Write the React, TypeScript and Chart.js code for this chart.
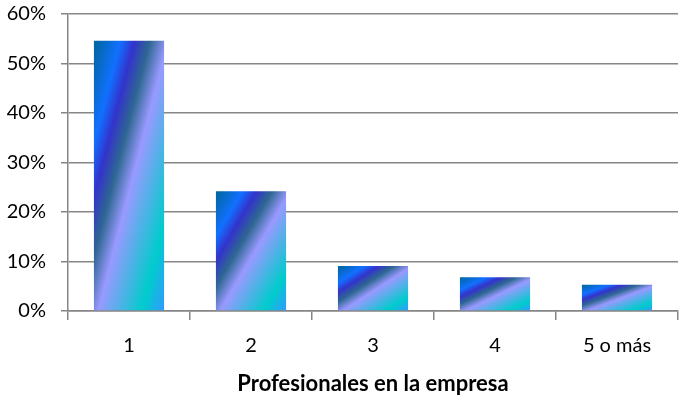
import React, { useEffect, useRef } from 'react';
import { Chart, registerables } from 'chart.js';

Chart.register(...registerables);

const categories = ['1', '2', '3', '4', '5 o más'];
const shares = [0.546, 0.242, 0.091, 0.068, 0.053];
const yTicks = [0, 0.1, 0.2, 0.3, 0.4, 0.5, 0.6];
const axisTitle = 'Profesionales en la empresa';

// Office "Peacock" style stops, from top-left to bottom-right of each bar
const gradientStops: [number, string][] = [
  [0, '#006699'],
  [0.19, '#1170FF'],
  [0.29, '#3333CC'],
  [0.4, '#2E6792'],
  [0.53, '#9999FF'],
  [0.84, '#00CCCC'],
  [1, '#3399FF'],
];

const BAR_PCT = 0.575;
const GRID = '#868686';
const FONT = 'Lato, "Open Sans", sans-serif';

const App: React.FC = () => {
  const canvasRef = useRef<HTMLCanvasElement>(null);

  useEffect(() => {
    if (!canvasRef.current) return;
    const ctx = canvasRef.current.getContext('2d');
    if (!ctx) return;

    const chart = new Chart(ctx, {
      type: 'bar',
      data: {
        labels: categories,
        datasets: [{
          data: shares,
          barPercentage: BAR_PCT,
          categoryPercentage: 1,
          borderWidth: 0,
          backgroundColor: (c: any) => {
            const ch = c.chart;
            if (!ch.chartArea || c.type !== 'data') return '#3399FF';
            const xs = ch.scales.x;
            const ys = ch.scales.y;
            const cx = xs.getPixelForValue(c.dataIndex);
            const w = (xs.width / categories.length) * BAR_PCT;
            const top = ys.getPixelForValue(c.raw);
            const h = ys.getPixelForValue(0) - top;
            if (!(h > 0)) return '#3399FF';
            const x0 = cx - w / 2;
            // diagonal gradient stretched to the bar box
            const k = 2 / (1 / (w * w) + 1 / (h * h));
            const g = ch.ctx.createLinearGradient(x0, top, x0 + k / w, top + k / h);
            gradientStops.forEach(([o, col]) => g.addColorStop(o, col));
            return g;
          },
        }],
      },
      options: {
        responsive: true,
        maintainAspectRatio: false,
        animation: false,
        layout: { padding: { top: 14, right: 2, bottom: 4, left: 0 } },
        plugins: {
          legend: { display: false },
          tooltip: { enabled: false },
        },
        scales: {
          x: {
            afterFit: (s: any) => {
              s.height = 86;
              s.paddingLeft = 0;
              s.paddingRight = 0;
            },
            grid: {
              display: true,
              drawOnChartArea: false,
              drawTicks: true,
              tickLength: 9,
              color: GRID,
              lineWidth: 1.5,
              offset: true,
            },
            border: { display: true, color: GRID, width: 1.5 },
            ticks: {
              color: '#000',
              padding: 14,
              maxRotation: 0,
              font: { family: FONT, size: 20 },
            },
            title: {
              display: true,
              text: axisTitle,
              color: '#000',
              padding: { top: 13, bottom: 0 },
              font: { family: FONT, size: 22, weight: 'bold' },
            },
          },
          y: {
            min: 0,
            max: 0.6,
            afterFit: (s: any) => {
              s.width = 68;
              s.paddingTop = 0;
              s.paddingBottom = 0;
            },
            afterBuildTicks: (s: any) => { s.ticks = yTicks.map(v => ({ value: v })); },
            grid: {
              color: GRID,
              lineWidth: 1.5,
              tickLength: 7,
              drawTicks: true,
            },
            border: { display: true, color: GRID, width: 1.5 },
            ticks: {
              color: '#000',
              padding: 15,
              font: { family: FONT, size: 20 },
              callback: (v: any) => `${Math.round(Number(v) * 100)}%`,
            },
          },
        },
      },
    });

    return () => {
      chart.destroy();
    };
  }, []);

  return (
    <div style={{ position: 'absolute', left: 0, top: 0, width: 680, height: 401, background: '#fff' }}>
      <canvas ref={canvasRef} />
    </div>
  );
};

export default App;
